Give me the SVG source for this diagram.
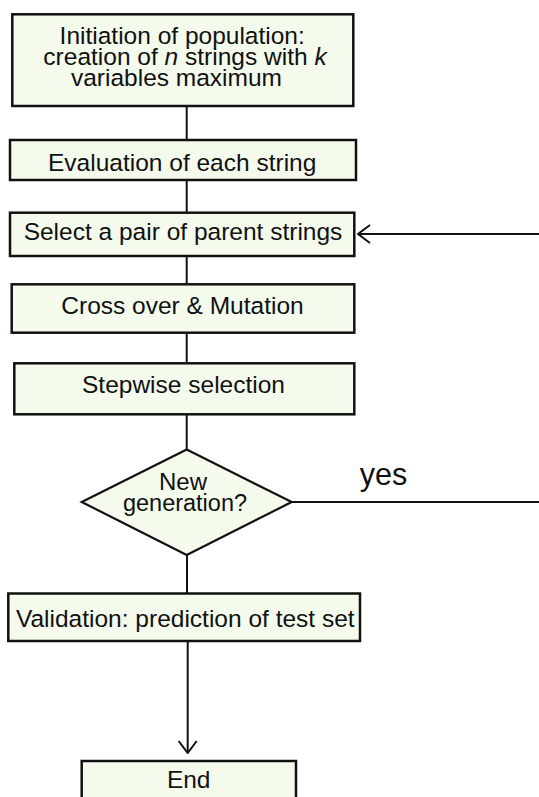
<svg xmlns="http://www.w3.org/2000/svg" width="539" height="797" viewBox="0 0 539 797">
  <style>
    .box { fill: #F4FAEC; stroke: #111; stroke-width: 2.5; }
    .dia { fill: #F4FAEC; stroke: #111; stroke-width: 2.2; stroke-linejoin: miter; }
    .lbl { font-family: "Liberation Sans", Arial, Helvetica, sans-serif; font-size: 24.5px; fill: #111; text-anchor: middle; }
    .conn { fill: none; stroke: #111; stroke-width: 2; }
  </style>
  <defs>
    <marker id="chev" viewBox="0 0 14 20" refX="13" refY="10" markerWidth="14" markerHeight="20" markerUnits="userSpaceOnUse" orient="auto">
      <path d="M1,1 L13,10 L1,19" fill="none" stroke="#111" stroke-width="2"/>
    </marker>
  </defs>
  <rect width="539" height="797" fill="#fff"/>

  <g id="connectors">
    <line class="conn" x1="186.7" y1="106" x2="186.7" y2="140"/>
    <line class="conn" x1="186.7" y1="180" x2="186.7" y2="212.7"/>
    <line class="conn" x1="186.7" y1="256" x2="186.7" y2="284.3"/>
    <line class="conn" x1="186.7" y1="332.7" x2="186.7" y2="363.3"/>
    <line class="conn" x1="186.7" y1="414.3" x2="186.7" y2="449.5"/>
    <line class="conn" x1="187" y1="555" x2="187" y2="593.5"/>
    <line class="conn" x1="187.7" y1="641" x2="187.7" y2="753" marker-end="url(#chev)"/>
    <line class="conn" x1="291.7" y1="502" x2="539" y2="502"/>
    <line class="conn" x1="539" y1="234" x2="358" y2="234" marker-end="url(#chev)"/>
    <text class="lbl" x="383.5" y="485" style="font-size:30.5px">yes</text>
  </g>

  <g id="init">
    <rect class="box" x="12.3" y="14.3" width="341" height="91.7"/>
    <text class="lbl" x="182.2" y="44.3">Initiation of population:</text>
    <text class="lbl" x="185" y="64.5">creation of <tspan font-style="italic">n</tspan> strings with <tspan font-style="italic">k</tspan></text>
    <text class="lbl" x="176.5" y="85.7">variables maximum</text>
  </g>

  <g id="evaluation">
    <rect class="box" x="10" y="140" width="346" height="40"/>
    <text class="lbl" x="182.2" y="171">Evaluation of each string</text>
  </g>

  <g id="select">
    <rect class="box" x="10" y="212.7" width="344.3" height="43.3"/>
    <text class="lbl" x="183" y="240">Select a pair of parent strings</text>
  </g>

  <g id="crossover">
    <rect class="box" x="11.7" y="284.3" width="342.6" height="48.4"/>
    <text class="lbl" x="182.5" y="314">Cross over &amp; Mutation</text>
  </g>

  <g id="stepwise">
    <rect class="box" x="14.3" y="363.3" width="340" height="51"/>
    <text class="lbl" x="183.5" y="393.3">Stepwise selection</text>
  </g>

  <g id="decision">
    <polygon class="dia" points="186.7,449.5 291.7,502 186.7,555 81.7,502"/>
    <text class="lbl" x="183" y="490" style="font-size:24px">New</text>
    <text class="lbl" x="185" y="511" style="font-size:23.5px">generation?</text>
  </g>

  <g id="validation">
    <rect class="box" x="8.3" y="593.5" width="351.7" height="47.5"/>
    <text class="lbl" x="185.3" y="626.7">Validation: prediction of test set</text>
  </g>

  <g id="end">
    <rect class="box" x="81.7" y="761" width="214.3" height="45"/>
    <text class="lbl" x="188.7" y="788.3">End</text>
  </g>
</svg>
